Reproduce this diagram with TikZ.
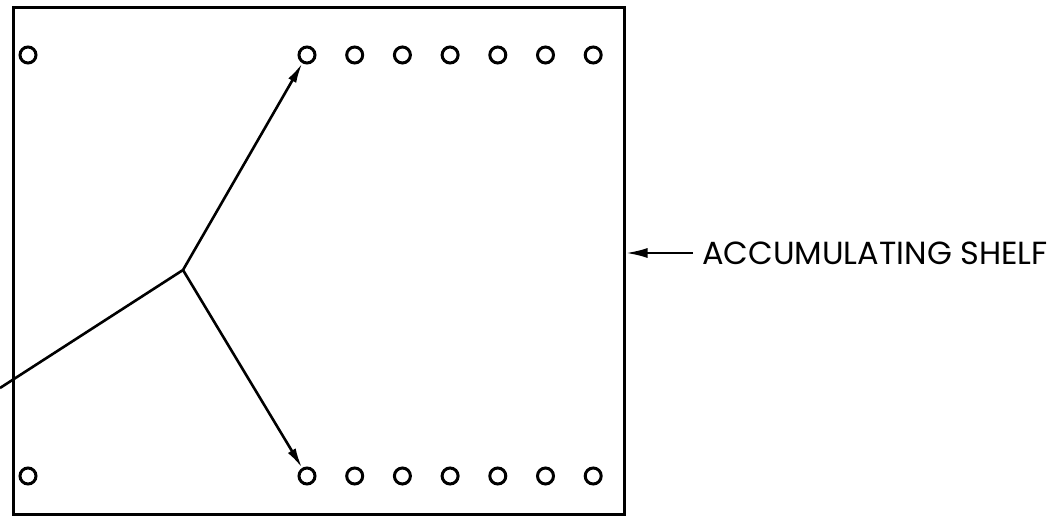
\documentclass[tikz,border=0pt]{standalone}
\usepackage{fontspec}
\setmainfont{Poppins}
\usetikzlibrary{arrows.meta}

\begin{document}
\begin{tikzpicture}[x=1pt, y=-1pt]
        \useasboundingbox (0,0) rectangle (1060,518);
        \tikzset{
            hole/.style={draw, circle, line width=3pt, minimum size=16pt, inner sep=0pt},
            feed/.style={line width=2.6pt, -{Latex[length=20pt, width=9pt]}}
        }

        % The shelf
        \node[draw, line width=3pt, minimum width=611pt, minimum height=506pt, inner sep=0pt]
            (shelfbox) at (318.5,261) {};

        % Holes
        \node[hole] (t0) at (28,55) {};
        \node[hole] (b0) at (28,476) {};
        \foreach \i in {1,...,7} {
            \node[hole] (t\i) at (307+47.7*\i-47.7, 55) {};
            \node[hole] (b\i) at (307+47.7*\i-47.7, 476) {};
        }

        % Feed lines
        \coordinate (infeed) at (0,388);
        \coordinate (split) at (183,270);
        \draw[line width=2.6pt] (infeed) -- (split);
        \draw[feed] (split) -- (t1);
        \draw[feed] (split) -- (b1);

        % Label
        \node[anchor=west, inner sep=0pt, font=\fontsize{32}{34}\selectfont] (shelf) at (702,253) {ACCUMULATING SHELF};
        \draw[line width=2.6pt, -{Latex[length=22pt, width=10pt]}] ([xshift=-9pt]shelf.west) -- (shelf.west -| shelfbox.east);
    \end{tikzpicture}
\end{document}
